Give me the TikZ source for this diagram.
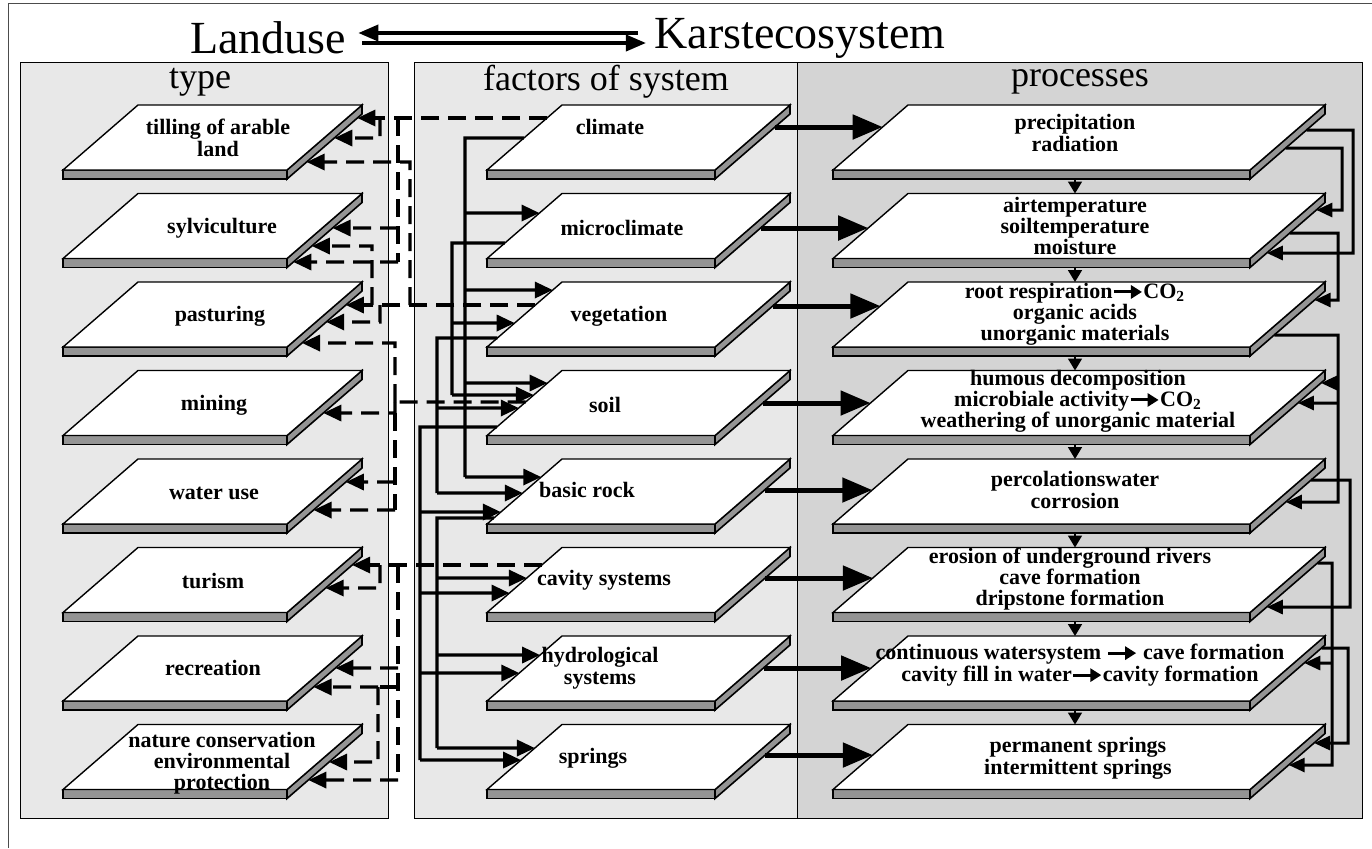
\documentclass[tikz,border=0pt]{standalone}
\usepackage{fontspec}
\setmainfont{Liberation Serif}
\usetikzlibrary{arrows.meta}

\tikzset{
  panel/.style={draw=black,line width=0.4pt},
  topface/.style={fill=white,draw=black,line width=0.7pt},
  stripface/.style={fill=black!42,draw=black,line width=0.8pt},
  lbl/.style={font=\bfseries\fontsize{11}{11}\selectfont,align=center,inner sep=0pt},
  lblthree/.style={font=\bfseries\fontsize{11}{10.5}\selectfont,align=center,inner sep=0pt},
  head/.style={font=\fontsize{18}{18}\selectfont,inner sep=0pt},
  ttl/.style={font=\fontsize{23}{23}\selectfont,inner sep=0pt},
  bigarr/.style={line width=2.5pt,-{Triangle[length=15pt,width=12pt]}},
  solarr/.style={line width=1.7pt,-{Triangle[length=9pt,width=8pt]}},
  solline/.style={line width=1.7pt},
  dasharr/.style={line width=1.7pt,dash pattern=on 9pt off 4.5pt,-{Triangle[length=9pt,width=8pt]}},
  dashline/.style={line width=1.7pt,dash pattern=on 9pt off 4.5pt},
  fbarr/.style={line width=1.5pt,-{Triangle[length=8pt,width=7pt]}},
  downarr/.style={line width=0.8pt,-{Triangle[length=6pt,width=7pt]}}
}

% slab: name, x bottom-left, x bottom-right, y top
\newcommand\myslab[4]{%
  \coordinate (#1-BL) at (#2,#4+65);
  \coordinate (#1-BR) at (#3,#4+65);
  \coordinate (#1-TR) at (#3+75,#4);
  \coordinate (#1-TL) at (#2+75,#4);
  \coordinate (#1-BLd) at (#2,#4+74);
  \coordinate (#1-BRd) at (#3,#4+74);
  \coordinate (#1-TRd) at (#3+75,#4+9);
  \filldraw[stripface] (#1-BL)--(#1-BR)--(#1-BRd)--(#1-BLd)--cycle;
  \filldraw[stripface] (#1-BR)--(#1-TR)--(#1-TRd)--(#1-BRd)--cycle;
  \filldraw[topface] (#1-BL)--(#1-BR)--(#1-TR)--(#1-TL)--cycle;
}
\newcommand\Lpt[3]{\coordinate (#1) at (intersection of #2-BL--#2-TL and 0,#3--1,#3);}
\newcommand\Rpt[3]{\coordinate (#1) at (intersection of #2-BRd--#2-TRd and 0,#3--1,#3);}
\newcommand\thkarr{\tikz[baseline=-0.62ex]\draw[line width=1.5pt,-{Triangle[length=5.5pt,width=6.5pt]}](0pt,0pt)--(14pt,0pt);}

\begin{document}
\begin{tikzpicture}[x=0.5pt,y=-0.5pt]
\useasboundingbox (0,0) rectangle (1372,848);
\fill[white] (0,0) rectangle (1372,848);

% outer frame
\draw[line width=0.4pt,black!70] (8,848) -- (8,3) -- (1372,3);

% titles
\node[ttl] (landuse) at (268,38) {Landuse};
\node[ttl] (karst) at (800,38) {Karstecosystem};
\draw[line width=1.8pt,{Triangle[length=10pt,width=8pt]}-] ([xshift=6pt,yshift=2.5pt]landuse.east) -- ([xshift=-8pt,yshift=2.5pt]karst.west);
\draw[line width=1.8pt,-{Triangle[length=10pt,width=8pt]}] ([xshift=8pt,yshift=-2.5pt]landuse.east) -- ([xshift=-4pt,yshift=-2.5pt]karst.west);

% panels
\filldraw[panel,fill=black!9] (20,62) rectangle (388,818);
\filldraw[panel,fill=black!9] (414,62) rectangle (797,818);
\filldraw[panel,fill=black!17] (797,62) rectangle (1362,818);

\node[head] (htype) at (200,82) {type};
\node[head] (hfac) at (606,82) {factors of system};
\node[head] (hproc) at (1080,82) {processes};

% slabs
\foreach \i/\t in {1/105,2/193.5,3/282,4/370.5,5/459,6/547.5,7/636,8/724.5}{
  \myslab{l\i}{63}{287}{\t}
  \myslab{m\i}{487}{715}{\t}
  \myslab{r\i}{833}{1250}{\t}
}

% labels: landuse types
\node[lbl] (tl1) at (218,138) {tilling of arable\\land};
\node[lbl] (tl2) at (222,228) {sylviculture};
\node[lbl] (tl3) at (220,316) {pasturing};
\node[lbl] (tl4) at (214,405) {mining};
\node[lbl] (tl5) at (214,493) {water use};
\node[lbl] (tl6) at (213,581) {turism};
\node[lbl] (tl7) at (213,668) {recreation};
\node[lblthree] (tl8) at (222,763) {nature conservation\\environmental\\protection};

% labels: factors
\node[lbl] (tm1) at (610,127) {climate};
\node[lbl] (tm2) at (622,228) {microclimate};
\node[lbl] (tm3) at (619,316) {vegetation};
\node[lbl] (tm4) at (605,405) {soil};
\node[lbl] (tm5) at (587,490) {basic rock};
\node[lbl] (tm6) at (604,580) {cavity systems};
\node[lbl] (tm7) at (600,668) {hydrological\\systems};
\node[lbl] (tm8) at (593,758) {springs};

% labels: processes
\node[lbl] (tr1) at (1075,133) {precipitation\\radiation};
\node[lblthree] (tr2) at (1075,226) {airtemperature\\soiltemperature\\moisture};
\node[lblthree] (tr3) at (1075,314) {root respiration\thkarr CO\textsubscript{2}\\organic acids\\unorganic materials};
\node[lblthree] (tr4) at (1078,401) {humous decomposition\\microbiale activity\thkarr CO\textsubscript{2}\\weathering of unorganic material};
\node[lbl] (tr5) at (1075,490) {percolationswater\\corrosion};
\node[lblthree] (tr6) at (1070,579) {erosion of underground rivers\\cave formation\\dripstone formation};
\node[lbl] (tr7) at (1080,665) {continuous watersystem \thkarr\ cave formation\\cavity fill in water\thkarr cavity formation};
\node[lbl] (tr8) at (1078,758) {permanent springs\\intermittent springs};

% thick arrows factors -> processes
\foreach \i/\y in {1/127,2/228,3/306,4/403,5/490,6/578,7/668,8/755}{
  \Rpt{fs\i}{m\i}{\y}
  \Lpt{fe\i}{r\i}{\y}
  \draw[bigarr] (fs\i) -- (fe\i);
}

% small arrows between processes
\foreach \i/\yb/\yt in {1/179/193.5,2/267.5/282,3/356/370.5,4/444.5/459,5/533/547.5,6/621.5/636,7/710/724.5}{
  \coordinate (dn\i) at (1075,\yb);
  \coordinate (dt\i) at (1075,\yt);
  \draw[downarr] (dn\i) -- (dt\i);
}

% ---- solid network (factors influence factors)
% climate
\Lpt{c0}{m1}{138}
\Lpt{c1}{m2}{213}\Lpt{c2}{m3}{290}\Lpt{c3}{m4}{383}\Lpt{c4}{m5}{477}
\draw[solline] (c0) -- (465,138) -- (465,477);
\draw[solarr] (465,477) -- (c4);
\draw[solarr] (465,213) -- (c1);
\draw[solarr] (465,290) -- (c2);
\draw[solarr] (465,383) -- (c3);
% microclimate
\Lpt{mc0}{m2}{243}\Lpt{mc1}{m3}{323}\Lpt{mc2}{m4}{395}
\draw[solline] (mc0) -- (452,243) -- (452,395);
\draw[solarr] (452,395) -- (mc2);
\draw[solarr] (452,323) -- (mc1);
% vegetation
\Lpt{v0}{m3}{338}\Lpt{v1}{m4}{408}\Lpt{v2}{m5}{493}
\draw[solline] (v0) -- (437,338) -- (437,493);
\draw[solarr] (437,493) -- (v2);
\draw[solarr] (437,408) -- (v1);
% soil
\Lpt{s0}{m4}{427}\Lpt{s1}{m5}{512}\Lpt{s2}{m6}{593}\Lpt{s3}{m7}{673}\Lpt{s4}{m8}{760}
\draw[solline] (s0) -- (420,427) -- (420,760);
\draw[solarr] (420,760) -- (s4);
\draw[solarr] (420,512) -- (s1);
\draw[solarr] (420,593) -- (s2);
\draw[solarr] (420,673) -- (s3);
% basic rock
\Lpt{b0}{m5}{518}\Lpt{b1}{m6}{578}\Lpt{b2}{m7}{655}\Lpt{b3}{m8}{748}
\draw[solline] (b0) -- (437,518) -- (437,748);
\draw[solarr] (437,748) -- (b3);
\draw[solarr] (437,578) -- (b1);
\draw[solarr] (437,655) -- (b2);

% ---- dashed network (factors -> land use)
% climate
\Lpt{dc}{m1}{118}
\Rpt{u1}{l1}{118}\Rpt{u2}{l1}{138}\Rpt{u3}{l2}{228}\Rpt{u4}{l2}{262}
\draw[dasharr] (dc) -- (u1);
\draw[dasharr] (380,118) -- (380,138) -- (u2);
\draw[dashline] (398,118) -- (398,262);
\draw[dasharr] (398,262) -- (u4);
\draw[dasharr] (398,228) -- (u3);
% vegetation
\Lpt{dv}{m3}{305}
\Rpt{u5}{l3}{305}\Rpt{u6}{l2}{246}\Rpt{u7}{l1}{162}\Rpt{u8}{l3}{322}
\draw[dasharr] (dv) -- (u5);
\draw[dasharr] (372,305) -- (372,246) -- (u6);
\draw[dasharr] (410,305) -- (410,162) -- (u7);
\draw[dasharr] (380,305) -- (380,322) -- (u8);
% soil
\Lpt{ds}{m4}{402}
\Rpt{u9}{l3}{343}\Rpt{u10}{l4}{413}\Rpt{u11}{l5}{482}\Rpt{u12}{l5}{510}
\draw[dashline] (ds) -- (395,402);
\draw[dasharr] (395,402) -- (395,343) -- (u9);
\draw[dasharr] (395,402) -- (395,413) -- (u10);
\draw[dashline] (395,413) -- (395,510);
\draw[dasharr] (395,482) -- (u11);
\draw[dasharr] (395,510) -- (u12);
% cavity systems
\Lpt{dk}{m6}{565}
\Rpt{u13}{l6}{565}\Rpt{u14}{l6}{588}\Rpt{u15}{l7}{668}\Rpt{u16}{l8}{780}\Rpt{u17}{l7}{687}\Rpt{u18}{l8}{762}
\draw[dasharr] (dk) -- (u13);
\draw[dasharr] (380,565) -- (380,588) -- (u14);
\draw[dashline] (398,565) -- (398,780);
\draw[dasharr] (398,780) -- (u16);
\draw[dasharr] (398,668) -- (u15);
\draw[dashline] (398,687) -- (378,687);
\draw[dasharr] (378,687) -- (u17);
\draw[dasharr] (378,687) -- (378,762) -- (u18);

% ---- feedback connectors on process side
\Rpt{a1}{r1}{130}\Rpt{a1e}{r2}{253}
\draw[fbarr] (a1) -- (1353,130) -- (1353,253) -- (a1e);
\Rpt{a2}{r1}{148}\Rpt{a2e}{r2}{210}
\draw[fbarr] (a2) -- (1342,148) -- (1342,210) -- (a2e);
\Rpt{a3}{r2}{233}\Rpt{a3e}{r3}{300}
\draw[fbarr] (a3) -- (1338,233) -- (1338,300) -- (a3e);
\Rpt{a4}{r3}{335}\Rpt{a4e}{r5}{502}\Rpt{a4b}{r4}{383}\Rpt{a4c}{r4}{403}
\draw[fbarr] (a4) -- (1338,335) -- (1338,502) -- (a4e);
\draw[fbarr] (1338,383) -- (a4b);
\draw[fbarr] (1338,403) -- (a4c);
\Rpt{a5}{r5}{480}\Rpt{a5e}{r6}{607}
\draw[fbarr] (a5) -- (1350,480) -- (1350,607) -- (a5e);
\Rpt{a6}{r6}{563}\Rpt{a6e}{r8}{765}\Rpt{a6b}{r7}{663}
\draw[fbarr] (a6) -- (1332,563) -- (1332,765) -- (a6e);
\draw[fbarr] (1332,663) -- (a6b);
\Rpt{a7}{r7}{648}\Rpt{a7e}{r8}{743}
\draw[fbarr] (a7) -- (1348,648) -- (1348,743) -- (a7e);
\end{tikzpicture}
\end{document}
